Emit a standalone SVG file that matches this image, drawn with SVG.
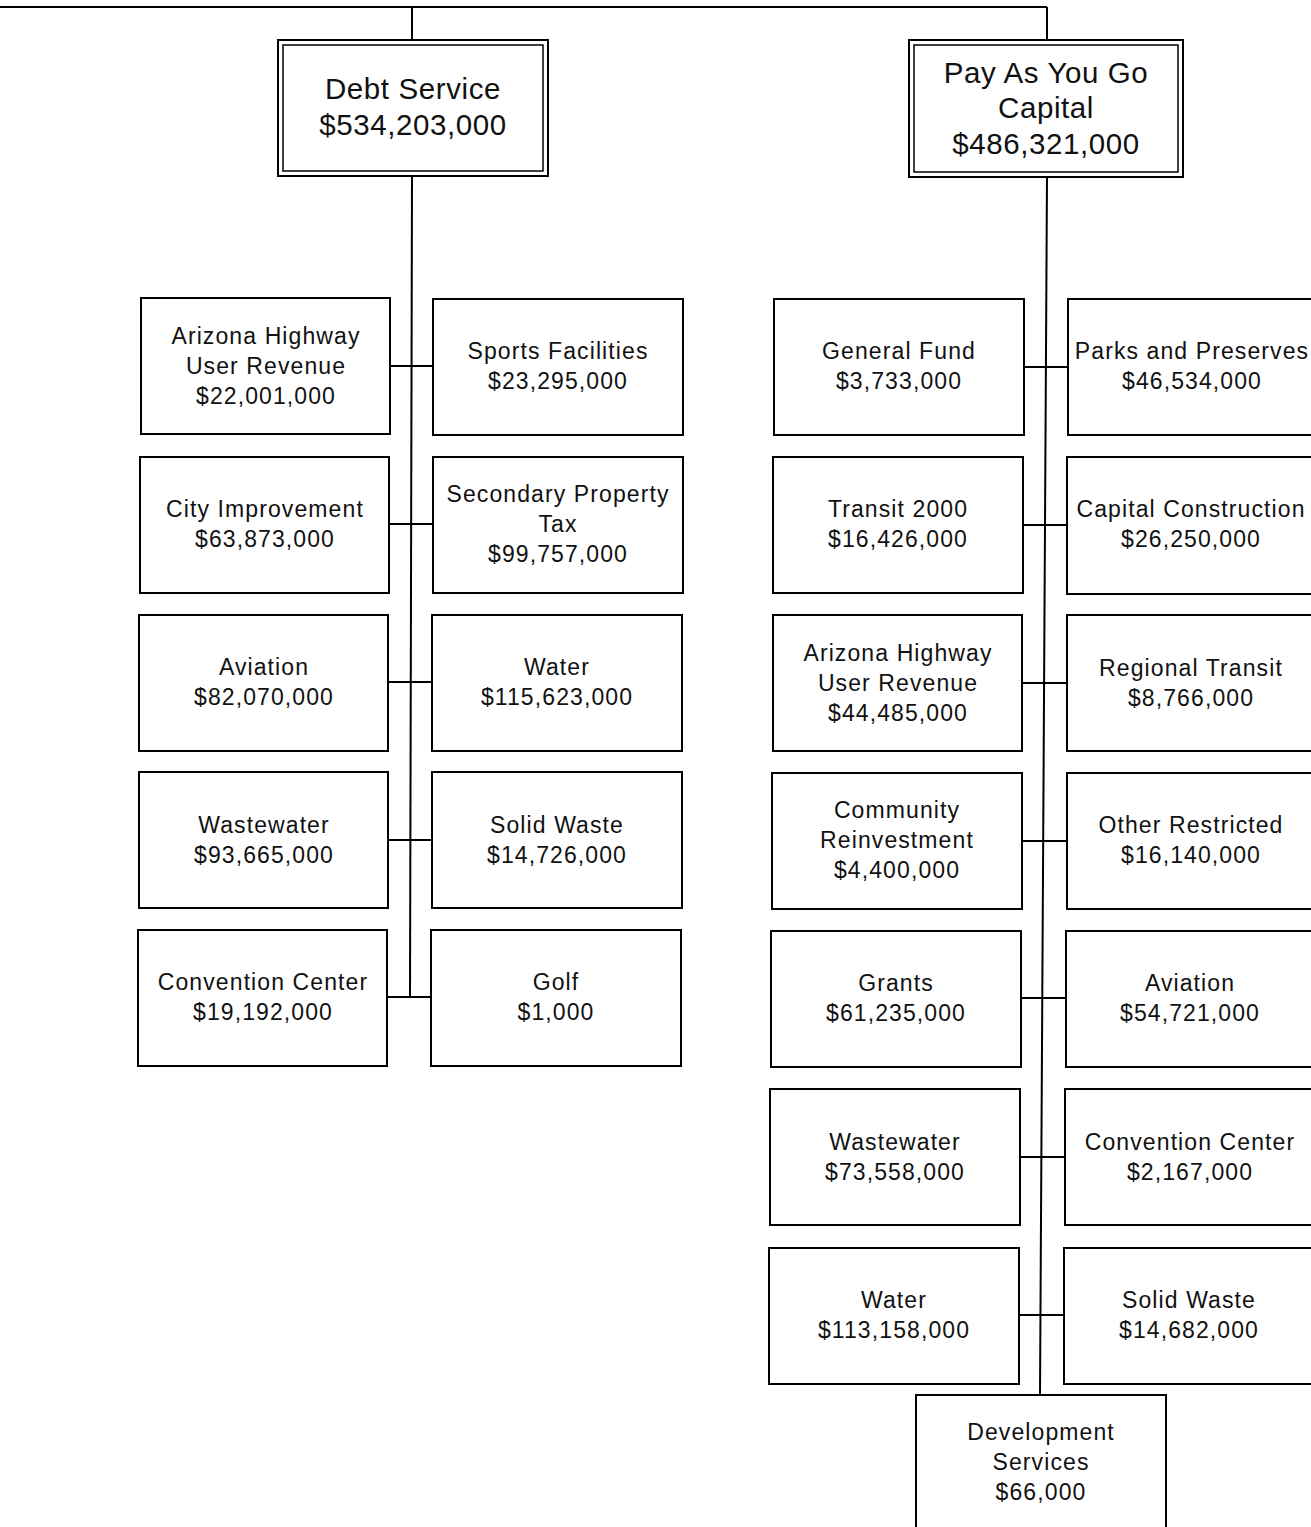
<svg xmlns="http://www.w3.org/2000/svg" width="1311" height="1527" viewBox="0 0 1311 1527">
<style>
.box{fill:#fff;stroke:#000;stroke-width:2}
.inner{fill:none;stroke:#000;stroke-width:1.5}
.c{fill:none;stroke:#000;stroke-width:2}
.t{font-family:"Liberation Sans",Arial,sans-serif;font-size:23px;letter-spacing:1.1px;text-anchor:middle;fill:#111}
.big{font-family:"Liberation Sans",Arial,sans-serif;font-size:29.5px;letter-spacing:0.6px;text-anchor:middle;fill:#111}
</style>
<rect width="1311" height="1527" fill="#fff"/>
<g id="connectors">
<path class="c" d="M0 7H1047M412 7V40M1047 7V40"/>
<path class="c" d="M412 176L410 997"/>
<path class="c" d="M390 366H433M389 524H433M388 682H432M388 840H432M387 997H431"/>
<path class="c" d="M1047 177L1040 1395"/>
<path class="c" d="M1024 367H1068M1023 525H1067M1022 683H1067M1022 841H1067M1021 998H1066M1020 1157H1065M1019 1315H1064"/>
</g>
<g id="debt-service">
<rect class="box" x="278" y="40" width="270" height="136"/>
<rect class="inner" x="283" y="45" width="260" height="126"/>
<text class="big" x="413" y="99">Debt Service</text>
<text class="big" x="413" y="135">$534,203,000</text>
</g>
<g id="pay-as-you-go">
<rect class="box" x="909" y="40" width="274" height="137"/>
<rect class="inner" x="914" y="45" width="264" height="127"/>
<text class="big" x="1046" y="83">Pay As You Go</text>
<text class="big" x="1046" y="118">Capital</text>
<text class="big" x="1046" y="154">$486,321,000</text>
</g>
<g id="ds-ahur">
<rect class="box" x="141" y="298" width="249" height="136"/>
<text class="t" x="266" y="344">Arizona Highway<tspan x="266" dy="30">User Revenue</tspan><tspan x="266" dy="30">$22,001,000</tspan></text>
</g>
<g id="ds-sports">
<rect class="box" x="433" y="299" width="250" height="136"/>
<text class="t" x="558" y="359">Sports Facilities<tspan x="558" dy="30">$23,295,000</tspan></text>
</g>
<g id="ds-city">
<rect class="box" x="140" y="457" width="249" height="136"/>
<text class="t" x="265" y="517">City Improvement<tspan x="265" dy="30">$63,873,000</tspan></text>
</g>
<g id="ds-secondary">
<rect class="box" x="433" y="457" width="250" height="136"/>
<text class="t" x="558" y="502">Secondary Property<tspan x="558" dy="30">Tax</tspan><tspan x="558" dy="30">$99,757,000</tspan></text>
</g>
<g id="ds-aviation">
<rect class="box" x="139" y="615" width="249" height="136"/>
<text class="t" x="264" y="675">Aviation<tspan x="264" dy="30">$82,070,000</tspan></text>
</g>
<g id="ds-water">
<rect class="box" x="432" y="615" width="250" height="136"/>
<text class="t" x="557" y="675">Water<tspan x="557" dy="30">$115,623,000</tspan></text>
</g>
<g id="ds-wastewater">
<rect class="box" x="139" y="772" width="249" height="136"/>
<text class="t" x="264" y="833">Wastewater<tspan x="264" dy="30">$93,665,000</tspan></text>
</g>
<g id="ds-solid">
<rect class="box" x="432" y="772" width="250" height="136"/>
<text class="t" x="557" y="833">Solid Waste<tspan x="557" dy="30">$14,726,000</tspan></text>
</g>
<g id="ds-convention">
<rect class="box" x="138" y="930" width="249" height="136"/>
<text class="t" x="263" y="990">Convention Center<tspan x="263" dy="30">$19,192,000</tspan></text>
</g>
<g id="ds-golf">
<rect class="box" x="431" y="930" width="250" height="136"/>
<text class="t" x="556" y="990">Golf<tspan x="556" dy="30">$1,000</tspan></text>
</g>
<g id="pg-general">
<rect class="box" x="774" y="299" width="250" height="136"/>
<text class="t" x="899" y="359">General Fund<tspan x="899" dy="30">$3,733,000</tspan></text>
</g>
<g id="pg-parks">
<rect class="box" x="1068" y="299" width="260" height="136"/>
<text class="t" x="1192" y="359">Parks and Preserves<tspan x="1192" dy="30">$46,534,000</tspan></text>
</g>
<g id="pg-transit">
<rect class="box" x="773" y="457" width="250" height="136"/>
<text class="t" x="898" y="517">Transit 2000<tspan x="898" dy="30">$16,426,000</tspan></text>
</g>
<g id="pg-capital">
<rect class="box" x="1067" y="457" width="260" height="137"/>
<text class="t" x="1191" y="517">Capital Construction<tspan x="1191" dy="30">$26,250,000</tspan></text>
</g>
<g id="pg-ahur">
<rect class="box" x="773" y="615" width="249" height="136"/>
<text class="t" x="898" y="661">Arizona Highway<tspan x="898" dy="30">User Revenue</tspan><tspan x="898" dy="30">$44,485,000</tspan></text>
</g>
<g id="pg-regional">
<rect class="box" x="1067" y="615" width="260" height="136"/>
<text class="t" x="1191" y="676">Regional Transit<tspan x="1191" dy="30">$8,766,000</tspan></text>
</g>
<g id="pg-community">
<rect class="box" x="772" y="773" width="250" height="136"/>
<text class="t" x="897" y="818">Community<tspan x="897" dy="30">Reinvestment</tspan><tspan x="897" dy="30">$4,400,000</tspan></text>
</g>
<g id="pg-other">
<rect class="box" x="1067" y="773" width="260" height="136"/>
<text class="t" x="1191" y="833">Other Restricted<tspan x="1191" dy="30">$16,140,000</tspan></text>
</g>
<g id="pg-grants">
<rect class="box" x="771" y="931" width="250" height="136"/>
<text class="t" x="896" y="991">Grants<tspan x="896" dy="30">$61,235,000</tspan></text>
</g>
<g id="pg-aviation">
<rect class="box" x="1066" y="931" width="260" height="136"/>
<text class="t" x="1190" y="991">Aviation<tspan x="1190" dy="30">$54,721,000</tspan></text>
</g>
<g id="pg-wastewater">
<rect class="box" x="770" y="1089" width="250" height="136"/>
<text class="t" x="895" y="1150">Wastewater<tspan x="895" dy="30">$73,558,000</tspan></text>
</g>
<g id="pg-convention">
<rect class="box" x="1065" y="1089" width="260" height="136"/>
<text class="t" x="1190" y="1150">Convention Center<tspan x="1190" dy="30">$2,167,000</tspan></text>
</g>
<g id="pg-water">
<rect class="box" x="769" y="1248" width="250" height="136"/>
<text class="t" x="894" y="1308">Water<tspan x="894" dy="30">$113,158,000</tspan></text>
</g>
<g id="pg-solid">
<rect class="box" x="1064" y="1248" width="260" height="136"/>
<text class="t" x="1189" y="1308">Solid Waste<tspan x="1189" dy="30">$14,682,000</tspan></text>
</g>
<g id="pg-development">
<rect class="box" x="916" y="1395" width="250" height="145"/>
<text class="t" x="1041" y="1440">Development<tspan x="1041" dy="30">Services</tspan><tspan x="1041" dy="30">$66,000</tspan></text>
</g>
</svg>
